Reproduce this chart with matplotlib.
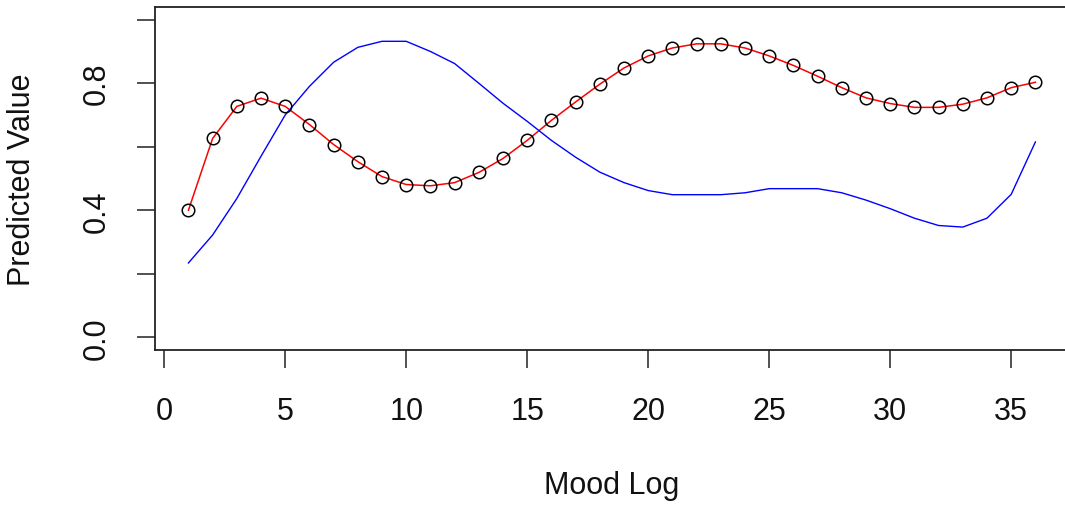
import matplotlib
matplotlib.use("Agg")
import matplotlib.pyplot as plt
import numpy as np

plt.rcParams['font.family'] = ['Liberation Sans', 'DejaVu Sans']

# mood log index
mood_log = list(range(1, 37))

# fitted values (red, with points)
fitted = [0.400, 0.626, 0.727, 0.753, 0.727, 0.670, 0.607, 0.553, 0.506, 0.481,
          0.477, 0.487, 0.519, 0.563, 0.620, 0.683, 0.741, 0.797, 0.848, 0.886,
          0.911, 0.924, 0.924, 0.911, 0.886, 0.856, 0.822, 0.786, 0.754, 0.736,
          0.724, 0.724, 0.734, 0.754, 0.786, 0.803]

# second predicted curve (blue)
predicted = [0.234, 0.322, 0.437, 0.570, 0.700, 0.790, 0.866, 0.913, 0.932, 0.932,
             0.900, 0.862, 0.800, 0.737, 0.680, 0.620, 0.567, 0.520, 0.487, 0.462,
             0.449, 0.449, 0.449, 0.455, 0.468, 0.468, 0.468, 0.455, 0.432, 0.405,
             0.375, 0.352, 0.347, 0.375, 0.450, 0.615]

x_ticks = [0, 5, 10, 15, 20, 25, 30, 35]
y_ticks = [0.0, 0.2, 0.4, 0.6, 0.8, 1.0]
y_tick_labels = ['0.0', '', '0.4', '', '0.8', '']

fig = plt.figure(figsize=(10.65, 5.1), dpi=100)
ax = fig.add_axes([0.1451, 0.3118, 0.8589, 0.6725])

ax.plot(mood_log, fitted, 'o', mfc='none', mec='black', ms=9, mew=1.1, zorder=3)
ax.plot(mood_log, fitted, color='#ff0000', lw=1.1, zorder=2)
ax.plot(mood_log, predicted, color='#0000ff', lw=1.0, zorder=2)

ax.set_xlim(-0.4, 37.4)
ax.set_ylim(-0.04, 1.04)
ax.set_xticks(x_ticks)
ax.set_yticks(y_ticks)
ax.set_yticklabels(y_tick_labels, rotation=90, va='center')
ax.tick_params(axis='both', labelsize=22, length=13, width=1.1, color='#222222',
               labelcolor='#111111')
ax.tick_params(axis='x', pad=20)
ax.tick_params(axis='y', pad=18)
for s in ax.spines.values():
    s.set_linewidth(1.3)
    s.set_color('#222222')

fig.text(0.021, 0.648, 'Predicted Value', rotation=90, ha='center', va='center',
         fontsize=22, color='#111111')
fig.text(0.574, 0.047, 'Mood Log', ha='center', va='center', fontsize=22,
         color='#111111')

fig.savefig('out.png', dpi=100)
